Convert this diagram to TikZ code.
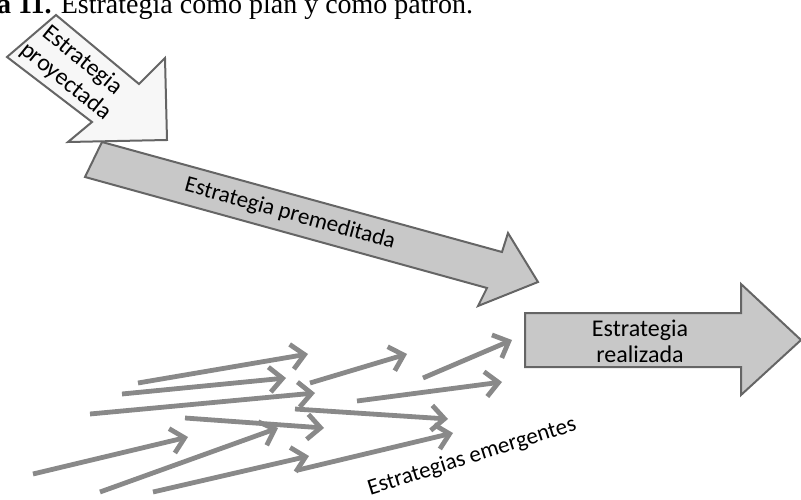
\documentclass[tikz,border=0pt]{standalone}
\usepackage{fontspec}
\setmainfont{Carlito}
\newfontfamily\titlefont{Liberation Serif}
\usetikzlibrary{arrows.meta}
\definecolor{edgegray}{HTML}{656565}
\definecolor{lightfill}{HTML}{F7F7F7}
\definecolor{midfill}{HTML}{C8C8C8}
\definecolor{smallarrow}{HTML}{898989}
\tikzset{
  bigarrow/.style={draw=edgegray, line width=2pt, line join=miter},
  lbl/.style={font=\fontsize{24}{26}\selectfont, align=center, inner sep=0pt},
  emerg/.style={draw=smallarrow, line width=4.8pt, line cap=butt,
    -{Straight Barb[length=13pt,width=25pt]}},
}
\begin{document}
\begin{tikzpicture}[x=1pt,y=-1pt]
\useasboundingbox (0,0) rectangle (801,500);
\clip (0,0) rectangle (801,500);

% caption line, partly outside the page
\node[anchor=base west, inner sep=0pt, font=\titlefont\fontsize{28}{30}\selectfont]
  (title) at (-70,14) {\textbf{Figura 11.} Estrategia como plan y como patrón.};

% projected strategy
\filldraw[bigarrow, fill=lightfill] (56,15) -- (139,84) -- (165,58) -- (167,140)
  -- (68,142) -- (92,122) -- (7,57) -- cycle;
\node[lbl, rotate=-39, font=\fontsize{24}{27}\selectfont] (proy) at (74,71) {Estrategia\\proyectada};

% deliberate strategy
\filldraw[bigarrow, fill=midfill] (102,142) -- (502,252) -- (508,233) -- (538,282)
  -- (478,306) -- (487,288) -- (85,177) -- cycle;
\node[lbl, rotate=-15.4, font=\fontsize{23}{25}\selectfont] (prem) at (290,214) {Estrategia premeditada};

% realized strategy
\filldraw[bigarrow, fill=midfill] (525,313) -- (741,313) -- (741,284) -- (801,340)
  -- (741,395) -- (741,367) -- (525,367) -- cycle;
\node[lbl] (real) at (640,341) {Estrategia\\realizada};

% emergent strategies
\coordinate (a1) at (138,383); \coordinate (b1) at (308,354);
\coordinate (a2) at (122,394); \coordinate (b2) at (286,378);
\coordinate (a3) at (90,414);  \coordinate (b3) at (315,393);
\coordinate (a4) at (185,418); \coordinate (b4) at (324,428);
\coordinate (a5) at (33,474);  \coordinate (b5) at (188,437);
\coordinate (a6) at (100,492); \coordinate (b6) at (278,428);
\coordinate (a7) at (153,492); \coordinate (b7) at (309,456);
\coordinate (a8) at (298,470); \coordinate (b8) at (453,433);
\coordinate (a9) at (295,409); \coordinate (b9) at (448,419);
\coordinate (a10) at (310,383); \coordinate (b10) at (407,354);
\coordinate (a11) at (357,401); \coordinate (b11) at (502,382);
\coordinate (a12) at (423,378); \coordinate (b12) at (512,340);
\foreach \i in {1,...,12} { \draw[emerg] (a\i) -- (b\i); }

\node[lbl, rotate=17.5, font=\fontsize{23}{25}\selectfont] (emer) at (472,457) {Estrategias emergentes};
\end{tikzpicture}
\end{document}
